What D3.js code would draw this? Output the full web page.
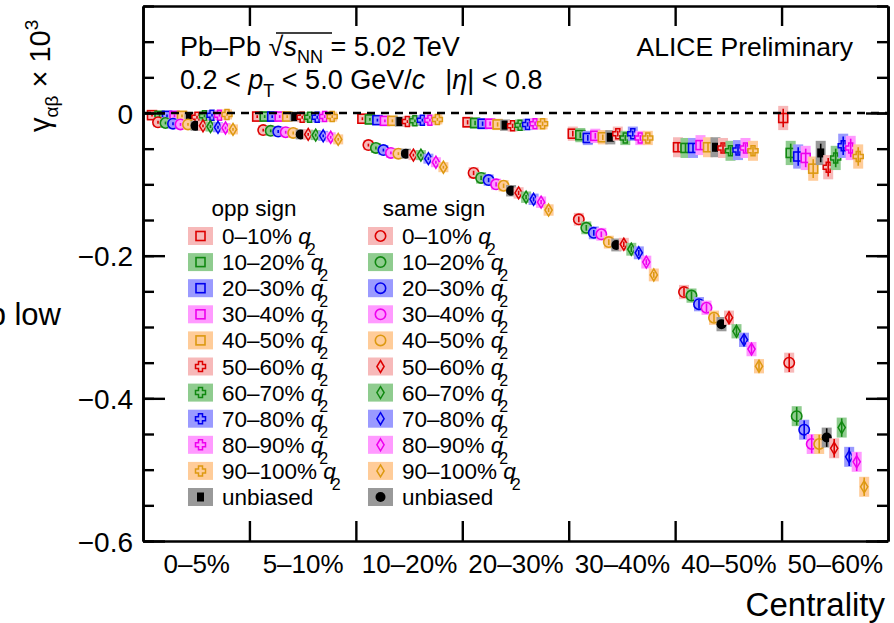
<!DOCTYPE html>
<html><head><meta charset="utf-8">
<script src="https://cdn.jsdelivr.net/npm/d3@7"></script>
<style>
body{margin:0;background:#fff}
svg{display:block}
text{font-family:"Liberation Sans",Arial,Helvetica,sans-serif;fill:#000}
</style>
</head><body>
<svg id="c" width="894" height="623"></svg>
<script>
// ---------------- DATA ----------------
const categories = ["0–5%","5–10%","10–20%","20–30%","30–40%","40–50%","50–60%"];
const q2Bins = ["0–10%","10–20%","20–30%","30–40%","40–50%","50–60%","60–70%","70–80%","80–90%","90–100%"];
const yTicks = [0,-0.2,-0.4,-0.6];
// values in plotting order: q2 0–10..40–50 (5), unbiased, q2 50–60..90–100 (5)
const opp_0_5   = [-0.003,-0.004,-0.004,-0.004,-0.004,-0.006,-0.006,-0.004,-0.003,-0.003,-0.002];
const opp_5_10  = [-0.005,-0.005,-0.005,-0.005,-0.005,-0.005,-0.006,-0.006,-0.006,-0.005,-0.005];
const opp_10_20 = [-0.008,-0.009,-0.010,-0.011,-0.011,-0.012,-0.012,-0.011,-0.010,-0.010,-0.009];
const opp_20_30 = [-0.013,-0.014,-0.015,-0.015,-0.016,-0.017,-0.018,-0.017,-0.016,-0.015,-0.015];
const opp_30_40 = [-0.029,-0.031,-0.035,-0.032,-0.034,-0.034,-0.029,-0.035,-0.029,-0.035,-0.035];
const opp_40_50 = [-0.048,-0.049,-0.049,-0.045,-0.048,-0.048,-0.049,-0.053,-0.052,-0.049,-0.053];
const opp_50_60 = [-0.007,-0.056,-0.061,-0.063,-0.078,-0.056,-0.076,-0.063,-0.046,-0.049,-0.061];
const same_0_5   = [-0.013,-0.014,-0.015,-0.016,-0.016,-0.018,-0.018,-0.019,-0.020,-0.021,-0.023];
const same_5_10  = [-0.024,-0.025,-0.026,-0.027,-0.028,-0.030,-0.030,-0.031,-0.032,-0.034,-0.037];
const same_10_20 = [-0.045,-0.049,-0.052,-0.056,-0.057,-0.057,-0.059,-0.059,-0.064,-0.069,-0.076];
const same_20_30 = [-0.084,-0.091,-0.094,-0.100,-0.102,-0.109,-0.112,-0.118,-0.121,-0.125,-0.136];
const same_30_40 = [-0.149,-0.161,-0.168,-0.170,-0.181,-0.185,-0.184,-0.191,-0.196,-0.209,-0.227];
const same_40_50 = [-0.251,-0.256,-0.268,-0.273,-0.287,-0.296,-0.287,-0.306,-0.318,-0.331,-0.355];
const same_50_60 = [-0.350,-0.425,-0.444,-0.464,-0.464,-0.455,-0.470,-0.441,-0.482,-0.489,-0.524];
// typical uncertainties per centrality class
const statErr = [0.002,0.002,0.002,0.003,0.004,0.006,0.013];
const sysErrOpp  = [0.006,0.006,0.007,0.008,0.010,0.014,0.017];
const sysErrSame = [0.006,0.006,0.007,0.008,0.009,0.010,0.014];

const oppSeries  = [opp_0_5,opp_5_10,opp_10_20,opp_20_30,opp_30_40,opp_40_50,opp_50_60];
const sameSeries = [same_0_5,same_5_10,same_10_20,same_20_30,same_30_40,same_40_50,same_50_60];

// ---------------- STYLE ----------------
const lineCol = ["#dd0000","#118811","#0000ee","#ee00ee","#dd9911"];
const boxCol  = ["#f7b9b9","#8fcc8f","#9a9aff","#ff9aff","#ffcc99"];
const FONT = "'Liberation Sans',Arial,Helvetica,sans-serif";

const svg = d3.select("#c");
const L=143, R=888, T=6, B=541;
const y = d3.scaleLinear().domain([-0.6,0.15]).range([B,T]);
const xCat = d3.scaleLinear().domain([0,7]).range([L,R]);
const xPt = d3.scaleLinear().domain([0,7]).range([152,152+7*105.2]);
const step = 7.5/105.2, sameShift = 6/105.2;

const crossPath = "M-2,-5H2V-2H5V2H2V5H-2V2H-5V-2H-2Z";
const diamPath = "M0,-6L3.6,0L0,6L-3.6,0Z";

function drawMarker(g, kind, ci, cx, cy){
  const c = lineCol[ci] || "#000";
  if(kind==="sq") g.append("rect").attr("x",cx-4.5).attr("y",cy-4.5).attr("width",9).attr("height",9).attr("fill","none").attr("stroke",c).attr("stroke-width",1.6);
  else if(kind==="circ") g.append("circle").attr("cx",cx).attr("cy",cy).attr("r",5.2).attr("fill","none").attr("stroke",c).attr("stroke-width",1.6);
  else if(kind==="cross") g.append("path").attr("d",crossPath).attr("transform",`translate(${cx},${cy})`).attr("fill","none").attr("stroke",c).attr("stroke-width",1.5);
  else if(kind==="diam") g.append("path").attr("d",diamPath).attr("transform",`translate(${cx},${cy})`).attr("fill","none").attr("stroke",c).attr("stroke-width",1.5);
  else if(kind==="unbSq") g.append("rect").attr("x",cx-3.5).attr("y",cy-4.5).attr("width",7).attr("height",9).attr("fill","#000");
  else if(kind==="unbCirc") g.append("circle").attr("cx",cx).attr("cy",cy).attr("r",5).attr("fill","#000");
}

// ---------------- POINTS ----------------
const gPts = svg.append("g");
function drawSet(seriesArr, sysArr, isSame){
  seriesArr.forEach((vals, ci) => {
    vals.forEach((v, k) => {
      const cx = xPt(ci + k*step + (isSame?sameShift:0));
      const cy = y(v);
      const colIdx = k<5 ? k : k-6;
      const unb = k===5;
      const sys = sysArr[ci], st = statErr[ci];
      gPts.append("rect").attr("x",cx-5).attr("width",10)
        .attr("y",Math.min(y(v+sys),cy-5)).attr("height",Math.max(y(v-sys)-y(v+sys),10))
        .attr("fill", unb ? "#999" : boxCol[colIdx]);
      const c = unb ? "#000" : lineCol[colIdx];
      gPts.append("line").attr("x1",cx).attr("x2",cx).attr("y1",y(v+st)).attr("y2",y(v-st))
        .attr("stroke",c).attr("stroke-width",1.6);
      let kind;
      if(unb) kind = isSame ? "unbCirc" : "unbSq";
      else if(k<5) kind = isSame ? "circ" : "sq";
      else kind = isSame ? "diam" : "cross";
      drawMarker(gPts, kind, unb ? -1 : colIdx, cx, cy);
    });
  });
}

// dashed zero line
svg.append("line").attr("x1",L).attr("x2",R).attr("y1",y(0)).attr("y2",y(0))
  .attr("stroke","#000").attr("stroke-width",2.5).attr("stroke-dasharray","8,6");

drawSet(oppSeries, sysErrOpp, false);
drawSet(sameSeries, sysErrSame, true);

// ---------------- AXES ----------------
const minor = d3.range(-0.6,0.151,0.05).map(d=>+d.toFixed(2));
function styleAxis(g){
  g.selectAll("path.domain").attr("stroke","#000").attr("stroke-width",2.6);
  g.selectAll(".tick line").attr("stroke","#000").attr("stroke-width",2.4);
  g.selectAll("text").style("font-family",FONT).attr("fill","#000");
}
const gL = svg.append("g").attr("transform",`translate(${L},0)`)
  .call(d3.axisLeft(y).tickValues(yTicks).tickSize(-22).tickSizeOuter(0).tickPadding(10)
    .tickFormat(d => d===0 ? "0" : d3.format(".1f")(d)));
styleAxis(gL); gL.selectAll("text").style("font-size","28px").attr("dy","0.36em");
const gLm = svg.append("g").attr("transform",`translate(${L},0)`)
  .call(d3.axisLeft(y).tickValues(minor).tickSize(-11).tickSizeOuter(0).tickFormat(""));
styleAxis(gLm);
const gR = svg.append("g").attr("transform",`translate(${R},0)`)
  .call(d3.axisRight(y).tickValues(yTicks).tickSize(-22).tickSizeOuter(0).tickFormat(""));
styleAxis(gR);
const gRm = svg.append("g").attr("transform",`translate(${R},0)`)
  .call(d3.axisRight(y).tickValues(minor).tickSize(-11).tickSizeOuter(0).tickFormat(""));
styleAxis(gRm);
const gB = svg.append("g").attr("transform",`translate(0,${B})`)
  .call(d3.axisBottom(xCat).tickValues(d3.range(1,7)).tickSize(-20).tickSizeOuter(0).tickFormat(""));
styleAxis(gB);
const gBl = svg.append("g").attr("transform",`translate(0,${B})`)
  .call(d3.axisBottom(xCat).tickValues(d3.range(0,7).map(i=>i+0.5)).tickSize(0).tickPadding(14)
    .tickFormat((d,i)=>categories[i]));
gBl.select("path.domain").remove();
gBl.selectAll("text").style("font-size","26px").style("font-family",FONT).attr("fill","#000");
const gT = svg.append("g").attr("transform",`translate(0,${T})`)
  .call(d3.axisTop(xCat).tickValues(d3.range(1,7)).tickSize(-20).tickSizeOuter(0).tickFormat(""));
styleAxis(gT);

// axis titles
svg.append("text").attr("x",885).attr("y",616).attr("text-anchor","end").style("font-size","33px").text("Centrality");
const yl = svg.append("text").attr("transform","translate(50,0) rotate(-90)")
  .attr("x",-132).attr("y",0).attr("text-anchor","start").style("font-size","29px");
yl.append("tspan").text("γ");
yl.append("tspan").attr("dy",8).style("font-size","19px").text("αβ");
yl.append("tspan").attr("dy",-8).text(" × 10");
yl.append("tspan").attr("dy",-12).style("font-size","19px").text("3");
svg.append("text").attr("x",61).attr("y",325).attr("text-anchor","end").style("font-size","31px").text("b low");

// header texts
const t1 = svg.append("text").attr("x",180).attr("y",56).style("font-size","27px");
t1.append("tspan").text("Pb–Pb ");
t1.append("tspan").text("√");
t1.append("tspan").style("font-style","italic").text("s");
t1.append("tspan").attr("dy",7).style("font-size","18px").text("NN");
t1.append("tspan").attr("dy",-7).text(" = 5.02 TeV");
svg.append("line").attr("x1",276).attr("x2",332).attr("y1",33).attr("y2",33).attr("stroke","#000").attr("stroke-width",1.6);
const t2 = svg.append("text").attr("x",180).attr("y",89).style("font-size","27px");
t2.append("tspan").text("0.2 < ");
t2.append("tspan").style("font-style","italic").text("p");
t2.append("tspan").attr("dy",8).style("font-size","18px").text("T");
t2.append("tspan").attr("dy",-8).text(" < 5.0 GeV/");
t2.append("tspan").style("font-style","italic").text("c");
t2.append("tspan").attr("dx",20).text("|");
t2.append("tspan").style("font-style","italic").text("η");
t2.append("tspan").text("| < 0.8");
svg.append("text").attr("x",853).attr("y",56).attr("text-anchor","end").style("font-size","26.5px").text("ALICE Preliminary");

// ---------------- LEGEND ----------------
function legendColumn(x0, title, isSame){
  const g = svg.append("g");
  g.append("text").attr("x",x0+66).attr("y",216).attr("text-anchor","middle").style("font-size","22.5px").text(title);
  const rows = q2Bins.map((b,i)=>({label:b, ci:i%5, kind: i<5 ? (isSame?"circ":"sq") : (isSame?"diam":"cross")}));
  rows.push({label:"unbiased", ci:-1, kind: isSame?"unbCirc":"unbSq"});
  rows.forEach((r,i)=>{
    const cy = 236 + i*26.1;
    g.append("rect").attr("x",x0).attr("y",cy-9).attr("width",25).attr("height",18)
      .attr("fill", r.ci<0 ? "#999" : boxCol[r.ci]);
    drawMarker(g, r.kind, r.ci, x0+12.5, cy);
    const t = g.append("text").attr("x",x0+34).attr("y",cy+8).style("font-size","22.5px");
    t.append("tspan").text(r.label);
    if(r.ci>=0){
      t.append("tspan").style("font-style","italic").text(" q");
      t.append("tspan").attr("dy",11).attr("dx",-4).style("font-size","16px").text("2");
    }
  });
}
legendColumn(188, "opp sign", false);
legendColumn(368, "same sign", true);
</script>
</body></html>
